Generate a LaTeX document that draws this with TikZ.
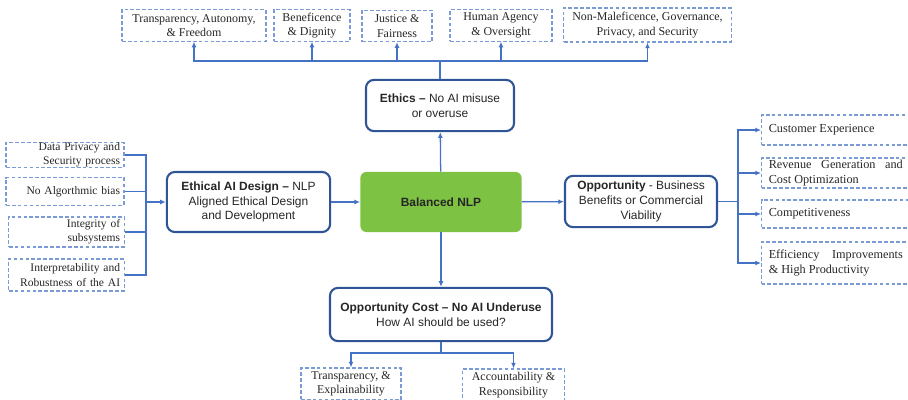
\documentclass[tikz,border=0pt]{standalone}
\usepackage{fontspec}
\setmainfont{Liberation Serif}
\setsansfont{Liberation Sans}
\usetikzlibrary{arrows.meta}
\definecolor{linkblue}{HTML}{4472C4}
\definecolor{boxblue}{HTML}{2F5597}
\definecolor{dashblue}{HTML}{7A9BD6}
\definecolor{nlpgreen}{HTML}{7DC242}
\definecolor{textgray}{HTML}{262626}
\tikzset{
  mainbox/.style={draw=boxblue, line width=1.5pt, rounded corners=0.2cm, align=center,
    text=textgray, font=\sffamily\fontsize{8.5}{10.6}\selectfont, inner sep=0pt},
  factor/.style={draw=dashblue, dash pattern=on 2.6pt off 1.6pt, line width=0.8pt,
    align=center, text=textgray, font=\fontsize{8.5}{10.2}\selectfont, inner sep=0pt},
  leftfactor/.style={factor, align=right, inner xsep=0.1cm, font=\fontsize{8.2}{10.2}\selectfont},
  rightfactor/.style={factor, align=justify, text width=3.35cm, inner xsep=0.18cm,
    anchor=west, font=\fontsize{8.7}{10.2}\selectfont},
  link/.style={draw=linkblue, line width=0.9pt},
  linkarrow/.style={link, -{Latex[length=4pt,width=3.5pt]}},
}
\begin{document}
\begin{tikzpicture}[x=0.025cm, y=-0.025cm]
  \clip (0,0) rectangle (908,400);
  % centre and the four main boxes
  \node[fill=nlpgreen, rounded corners=0.15cm, minimum width=4.03cm, minimum height=1.5cm,
    font=\sffamily\fontsize{8.5}{10.6}\selectfont, text=textgray] (nlp) at (441,202) {\textbf{Balanced NLP}};
  \node[mainbox, minimum width=3.7cm, minimum height=1.28cm] (ethics) at (440,105.5)
    {\textbf{Ethics –} No AI misuse\\ or overuse};
  \node[mainbox, minimum width=4.08cm, minimum height=1.5cm] (design) at (248.5,202)
    {\textbf{Ethical AI Design –} NLP\\ Aligned Ethical Design\\ and Development};
  \node[mainbox, minimum width=3.8cm, minimum height=1.28cm] (opp) at (641,201.5)
    {\textbf{Opportunity} - Business\\ Benefits or Commercial\\ Viability};
  \node[mainbox, minimum width=5.55cm, minimum height=1.33cm] (cost) at (441,314.5)
    {\textbf{Opportunity Cost – No AI Underuse}\\ How AI should be used?};
  % ethics principles
  \node[factor, minimum width=3.6cm, minimum height=0.78cm] (t1) at (194,25.5) {Transparency, Autonomy,\\ \& Freedom};
  \node[factor, minimum width=1.9cm, minimum height=0.78cm] (t2) at (312,25.5) {Beneficence\\ \& Dignity};
  \node[factor, minimum width=1.75cm, minimum height=0.78cm] (t3) at (397,26) {Justice \&\\ Fairness};
  \node[factor, minimum width=2.55cm, minimum height=0.78cm] (t4) at (501,25.5) {Human Agency\\ \& Oversight};
  \node[factor, minimum width=4.18cm, minimum height=0.85cm] (t5) at (647.5,25) {Non-Maleficence, Governance,\\ Privacy, and Security};
  % design factors
  \node[leftfactor, text width=2.75cm, minimum height=0.6cm] (l1) at (65,155) {Data Privacy and\\ Security process};
  \node[leftfactor, text width=2.75cm, minimum height=0.68cm] (l2) at (65,191.5) {No Algorthmic bias};
  \node[leftfactor, text width=2.68cm, minimum height=0.75cm] (l3) at (66.5,232) {Integrity of\\ subsystems};
  \node[leftfactor, text width=2.68cm, minimum height=0.8cm] (l4) at (66.5,275) {Interpretability and\\ Robustness of the AI};
  % business benefits
  \node[rightfactor, minimum height=0.75cm] (r1) at (761,130) {Customer Experience};
  \node[rightfactor, minimum height=0.75cm] (r2) at (761,173) {Revenue Generation and\linebreak Cost Optimization};
  \node[rightfactor, minimum height=0.7cm] (r3) at (761,214) {Competitiveness};
  \node[rightfactor, minimum height=1.05cm] (r4) at (761,263) {Efficiency Improvements\linebreak \& High Productivity};
  % usage factors
  \node[factor, minimum width=2.5cm, minimum height=0.8cm] (b1) at (351,384) {Transparency, \&\\ Explainability};
  \node[factor, minimum width=2.53cm, minimum height=0.8cm] (b2) at (513.5,385) {Accountability \&\\ Responsibility};
  % buses
  \coordinate (topbus) at (440,61);
  \coordinate (leftbus) at (146,202);
  \coordinate (rightbus) at (738,201.5);
  \coordinate (lowbus) at (441,353);
  \begin{scope}
    \draw[linkarrow] (nlp) -- (ethics);
    \draw[linkarrow] (nlp) -- (cost);
    \draw[linkarrow] (nlp) -- (opp);
    \draw[linkarrow] (design) -- (nlp);
    \draw[link] (ethics) -- (topbus);
    \draw[linkarrow] (topbus) -| (t1);
    \draw[linkarrow] (topbus) -| (t2);
    \draw[linkarrow] (topbus) -| (t3);
    \draw[linkarrow] (topbus) -| (t4);
    \draw[linkarrow] (topbus) -| (t5);
    \draw[link] (l1) -| (leftbus);
    \draw[link] (l2) -| (leftbus);
    \draw[link] (l3) -| (leftbus);
    \draw[link] (l4) -| (leftbus);
    \draw[linkarrow] (leftbus) -- (design);
    \draw[link] (opp) -- (rightbus);
    \draw[linkarrow] (rightbus) |- (r1);
    \draw[linkarrow] (rightbus) |- (r2);
    \draw[linkarrow] (rightbus) |- (r3);
    \draw[linkarrow] (rightbus) |- (r4);
    \draw[link] (cost) -- (lowbus);
    \draw[linkarrow] (lowbus) -| (b1);
    \draw[linkarrow] (lowbus) -| (b2);
  \end{scope}
\end{tikzpicture}
\end{document}
